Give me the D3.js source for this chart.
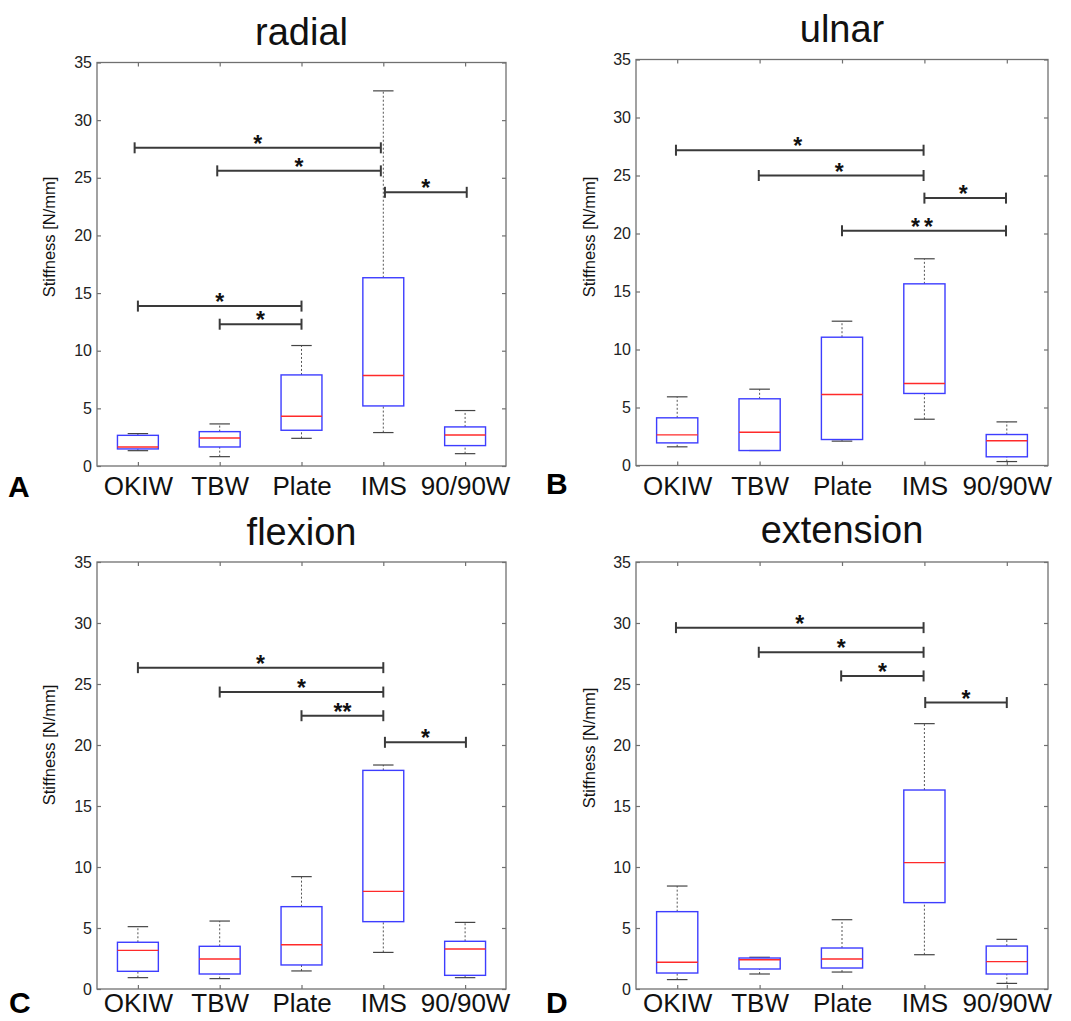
<!DOCTYPE html>
<html>
<head>
<meta charset="utf-8">
<script src="https://cdn.jsdelivr.net/npm/d3@7"></script>
<style>
  body { margin: 0; background: #fff; }
  svg { display: block; font-family: "Liberation Sans", Arial, sans-serif; }
</style>
</head>
<body>
<svg id="canvas" width="1071" height="1021"></svg>
<script>
// categories and ticks
const categories = ["OKIW", "TBW", "Plate", "IMS", "90/90W"];
const panelTitles = ["radial", "ulnar", "flexion", "extension"];
const panelLetters = ["A", "B", "C", "D"];
const yTicks = [0, 5, 10, 15, 20, 25, 30, 35];

// box stats per category: [lower whisker, q1, median, q3, upper whisker]
const radialStats = [
  [1.33, 1.48, 1.65, 2.66, 2.81],
  [0.81, 1.65, 2.43, 2.98, 3.65],
  [2.40, 3.10, 4.31, 7.90, 10.45],
  [2.90, 5.21, 7.85, 16.33, 32.54],
  [1.07, 1.77, 2.69, 3.39, 4.81]
];
const ulnarStats = [
  [1.61, 1.95, 2.64, 4.11, 5.92],
  [1.29, 1.29, 2.87, 5.75, 6.58],
  [2.10, 2.24, 6.12, 11.06, 12.44],
  [3.99, 6.21, 7.07, 15.66, 17.82],
  [0.34, 0.75, 2.13, 2.67, 3.76]
];
const flexionStats = [
  [0.93, 1.45, 3.17, 3.83, 5.11],
  [0.85, 1.23, 2.46, 3.50, 5.57],
  [1.48, 1.97, 3.63, 6.75, 9.21],
  [3.00, 5.52, 8.00, 17.92, 18.36],
  [0.93, 1.12, 3.28, 3.91, 5.46]
];
const extensionStats = [
  [0.77, 1.31, 2.19, 6.34, 8.44],
  [1.23, 1.64, 2.40, 2.54, 2.60],
  [1.39, 1.72, 2.46, 3.36, 5.68],
  [2.81, 7.08, 10.36, 16.31, 21.75],
  [0.46, 1.23, 2.24, 3.52, 4.07]
];

// significance brackets: [from (category pos), to, height, marker]
const radialSig = [
  [0.96, 3.97, 27.6, "*"],
  [1.97, 3.97, 25.6, "*"],
  [4.02, 5.02, 23.74, "*"],
  [1.0, 3.0, 13.87, "*"],
  [2.0, 3.0, 12.3, "*"]
];
const ulnarSig = [
  [0.985, 3.99, 27.18, "*"],
  [1.99, 3.99, 25.0, "*"],
  [4.0, 4.99, 23.05, "*"],
  [3.0, 4.99, 20.23, "**"]
];
const flexionSig = [
  [1.0, 4.0, 26.34, "*"],
  [2.0, 4.0, 24.34, "*"],
  [3.0, 4.0, 22.4, "**"],
  [4.02, 5.01, 20.22, "*"]
];
const extensionSig = [
  [0.985, 3.99, 29.62, "*"],
  [1.99, 3.99, 27.6, "*"],
  [2.99, 3.99, 25.66, "*"],
  [4.01, 5.0, 23.48, "*"]
];

const allStats = [radialStats, ulnarStats, flexionStats, extensionStats];
const allSig = [radialSig, ulnarSig, flexionSig, extensionSig];

// where each panel sits on the page
const layout = [
  {left: 97,  right: 506,  top: 62.5, bottom: 466, titleY: 45, pad: 11, letterX: 8,   letterY: 497, ylabX: 55,  ylabY: 237, gap: 0},
  {left: 636, right: 1048, top: 59.5, bottom: 465.5, titleY: 42, pad: 11, letterX: 546, letterY: 494, ylabX: 595, ylabY: 237, gap: 4},
  {left: 97,  right: 506,  top: 562,  bottom: 989, titleY: 545, pad: 5, letterX: 9,   letterY: 1013, ylabX: 55,  ylabY: 745, gap: 0},
  {left: 636, right: 1048, top: 562,  bottom: 989, titleY: 543, pad: 5, letterX: 546, letterY: 1013, ylabX: 595, ylabY: 748, gap: 0}
];

let canvas = d3.select("#canvas");

let drawPanel = (i) => {
  let L = layout[i];
  let stats = allStats[i];
  let sig = allSig[i];

  let x = d3.scaleLinear().domain([0.5, 5.5]).range([L.left, L.right]);
  let y = d3.scaleLinear().domain([0, 35]).range([L.bottom, L.top]);
  let g = canvas.append("g");

  // axes with inward ticks
  let left = g.append("g").attr("transform", `translate(${L.left},0)`)
    .call(d3.axisLeft(y).tickValues(yTicks).tickSizeInner(-4).tickSizeOuter(0).tickPadding(5));
  let right = g.append("g").attr("transform", `translate(${L.right},0)`)
    .call(d3.axisRight(y).tickValues(yTicks).tickSizeInner(-4).tickSizeOuter(0).tickFormat(""));
  let bottom = g.append("g").attr("transform", `translate(0,${L.bottom})`)
    .call(d3.axisBottom(x).tickValues([1, 2, 3, 4, 5]).tickSizeInner(-4).tickSizeOuter(0)
      .tickPadding(L.pad).tickFormat((d) => categories[d - 1]));
  let top = g.append("g").attr("transform", `translate(0,${L.top})`)
    .call(d3.axisTop(x).tickValues([1, 2, 3, 4, 5]).tickSizeInner(-4).tickSizeOuter(0).tickFormat(""));

  [left, right, bottom, top].forEach((a) => {
    a.select(".domain").remove();
    a.selectAll("line").attr("stroke", "#707070").attr("stroke-width", 1.2);
  });
  left.selectAll("text").attr("font-size", 16).attr("fill", "#222").attr("font-family", null);
  bottom.selectAll("text").attr("font-size", 26).attr("fill", "#111").attr("font-family", null);

  g.append("rect")
    .attr("x", L.left).attr("y", L.top)
    .attr("width", L.right - L.left).attr("height", L.bottom - L.top)
    .attr("fill", "none").attr("stroke", "#707070").attr("stroke-width", 1.3);

  // boxes
  let boxW = x(1.25) - x(1);
  let capW = x(1.125) - x(1);
  let boxes = g.selectAll(".box").data(stats).enter().append("g").attr("class", "box");

  boxes.append("line")
    .attr("x1", (d, j) => x(j + 1)).attr("x2", (d, j) => x(j + 1))
    .attr("y1", (d) => y(d[3])).attr("y2", (d) => y(d[4]))
    .attr("stroke", "#555").attr("stroke-width", 1).attr("stroke-dasharray", "2,2");
  boxes.append("line")
    .attr("x1", (d, j) => x(j + 1)).attr("x2", (d, j) => x(j + 1))
    .attr("y1", (d) => y(d[0])).attr("y2", (d) => y(d[1]))
    .attr("stroke", "#555").attr("stroke-width", 1).attr("stroke-dasharray", "2,2");
  [0, 4].forEach((k) => {
    boxes.append("line")
      .attr("x1", (d, j) => x(j + 1) - capW).attr("x2", (d, j) => x(j + 1) + capW)
      .attr("y1", (d) => y(d[k])).attr("y2", (d) => y(d[k]))
      .attr("stroke", "#444").attr("stroke-width", 1.2);
  });
  boxes.append("rect")
    .attr("x", (d, j) => x(j + 1) - boxW).attr("width", boxW * 2)
    .attr("y", (d) => y(d[3])).attr("height", (d) => y(d[1]) - y(d[3]))
    .attr("fill", "none").attr("stroke", "#3d3dff").attr("stroke-width", 1.4);
  boxes.append("line")
    .attr("x1", (d, j) => x(j + 1) - boxW).attr("x2", (d, j) => x(j + 1) + boxW)
    .attr("y1", (d) => y(d[2])).attr("y2", (d) => y(d[2]))
    .attr("stroke", "#ff2a2a").attr("stroke-width", 1.4);

  // significance brackets
  let brackets = g.selectAll(".sig").data(sig).enter().append("g").attr("class", "sig");
  brackets.append("line")
    .attr("x1", (d) => x(d[0])).attr("x2", (d) => x(d[1]))
    .attr("y1", (d) => y(d[2])).attr("y2", (d) => y(d[2]))
    .attr("stroke", "#3a3a3a").attr("stroke-width", 2);
  [0, 1].forEach((k) => {
    brackets.append("line")
      .attr("x1", (d) => x(d[k])).attr("x2", (d) => x(d[k]))
      .attr("y1", (d) => y(d[2]) - 5.5).attr("y2", (d) => y(d[2]) + 5.5)
      .attr("stroke", "#3a3a3a").attr("stroke-width", 2);
  });
  brackets.append("text")
    .attr("x", (d) => (x(d[0]) + x(d[1])) / 2)
    .attr("y", (d) => y(d[2]) + 4)
    .attr("text-anchor", "middle")
    .attr("font-size", 23).attr("font-weight", "bold").attr("fill", "#111")
    .attr("letter-spacing", L.gap)
    .text((d) => d[3]);

  // titles and labels
  g.append("text")
    .attr("x", (L.left + L.right) / 2).attr("y", L.titleY)
    .attr("text-anchor", "middle").attr("font-size", 38).attr("fill", "#111")
    .text(panelTitles[i]);

  g.append("text")
    .attr("transform", `translate(${L.ylabX},${L.ylabY}) rotate(-90)`)
    .attr("text-anchor", "middle").attr("font-size", 16.5).attr("fill", "#111")
    .text("Stiffness [N/mm]");

  g.append("text")
    .attr("x", L.letterX).attr("y", L.letterY)
    .attr("font-size", 30).attr("font-weight", "bold").attr("fill", "#000")
    .text(panelLetters[i]);
};

[0, 1, 2, 3].forEach(drawPanel);
</script>
</body>
</html>
